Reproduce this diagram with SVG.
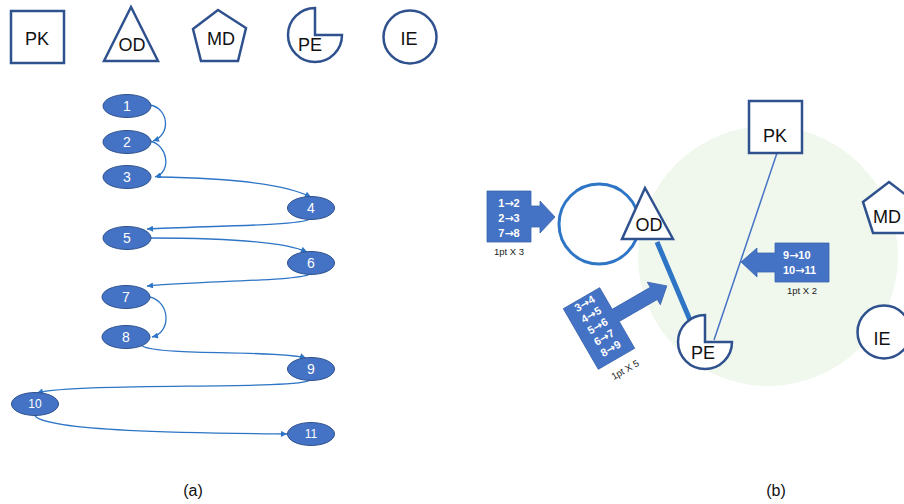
<svg xmlns="http://www.w3.org/2000/svg" width="904" height="504" viewBox="0 0 904 504">
<style>
.shape{fill:#fff;stroke:#2F528F;stroke-width:2.5}
.lbl{font-family:"Liberation Sans",Arial,sans-serif;font-size:18px;fill:#111;text-anchor:middle}
.ell{fill:#4472C4;stroke:#2F528F;stroke-width:1}
.num{font-family:"Liberation Sans",Arial,sans-serif;font-size:14px;fill:#fff;text-anchor:middle}
.num2{font-family:"Liberation Sans",Arial,sans-serif;font-size:12px;fill:#fff;text-anchor:middle}
.con{fill:none;stroke:#2E75C6;stroke-width:1.3;marker-end:url(#ah)}
.call{fill:#4472C4;stroke:#3A64AE;stroke-width:0.8}
.ct{font-family:"Liberation Sans",Arial,sans-serif;font-size:11px;fill:#fff;font-weight:bold}
.ar{font-family:"DejaVu Sans",sans-serif;font-weight:bold}
.small{font-family:"Liberation Sans",Arial,sans-serif;font-size:9.5px;fill:#222;text-anchor:middle}
.cap{font-family:"Liberation Sans",Arial,sans-serif;font-size:16px;fill:#111;text-anchor:middle}
</style>
<defs>
<marker id="ah" viewBox="0 0 10 10" refX="10" refY="5" markerWidth="7" markerHeight="6" markerUnits="userSpaceOnUse" orient="auto">
<path d="M0,0 L10,5 L0,10 Z" fill="#2E75C6"/>
</marker>
</defs>
<rect width="904" height="504" fill="#fff"/>

<!-- Legend -->
<g id="legend-PK"><rect class="shape" x="11" y="11" width="53" height="52"/><text class="lbl" x="37" y="45">PK</text></g>
<g id="legend-OD"><polygon class="shape" points="131,7 104,61 158,61"/><text class="lbl" x="132" y="51">OD</text></g>
<g id="legend-MD"><polygon class="shape" points="218,10 246,28 238,61 201,61 193,29"/><text class="lbl" x="221" y="45">MD</text></g>
<g id="legend-PE"><path class="shape" d="M315,35 L315,8 A27,27 0 1,0 342,35 Z"/><text class="lbl" x="310" y="51">PE</text></g>
<g id="legend-IE"><circle class="shape" cx="410" cy="37" r="26.5"/><text class="lbl" x="409" y="45">IE</text></g>

<!-- (a) connectors -->
<g id="connectors-a">
<path class="con" d="M150,105 C168,108 172,134 153,141"/>
<path class="con" d="M150,141 C168,145 172,172 155,177"/>
<path class="con" d="M157,177 C230,178 285,184 311,197"/>
<path class="con" d="M310,219 C300,226 200,226 147,229"/>
<path class="con" d="M151,238 C230,238 285,242 307,252"/>
<path class="con" d="M310,274 C300,281 200,281 147,286"/>
<path class="con" d="M150,297 C170,302 172,332 152,337"/>
<path class="con" d="M142,346 C160,356 280,350 306,358"/>
<path class="con" d="M310,380 C300,390 80,382 37,393"/>
<path class="con" d="M35,416 C50,432 200,433 287,434"/>
</g>

<!-- (a) nodes -->
<g id="n1"><ellipse class="ell" cx="127" cy="106" rx="24" ry="11.5"/><text class="num" x="127" y="111">1</text></g>
<g id="n2"><ellipse class="ell" cx="127" cy="142" rx="24" ry="11.5"/><text class="num" x="127" y="147">2</text></g>
<g id="n3"><ellipse class="ell" cx="127" cy="177" rx="24" ry="11.5"/><text class="num" x="127" y="182">3</text></g>
<g id="n4"><ellipse class="ell" cx="311" cy="208" rx="23.5" ry="11.5"/><text class="num" x="311" y="213">4</text></g>
<g id="n5"><ellipse class="ell" cx="127" cy="238" rx="24" ry="11.5"/><text class="num" x="127" y="243">5</text></g>
<g id="n6"><ellipse class="ell" cx="311" cy="263" rx="23.5" ry="11.5"/><text class="num" x="311" y="268">6</text></g>
<g id="n7"><ellipse class="ell" cx="126" cy="297" rx="24" ry="11.5"/><text class="num" x="126" y="302">7</text></g>
<g id="n8"><ellipse class="ell" cx="126" cy="337" rx="24" ry="11.5"/><text class="num" x="126" y="342">8</text></g>
<g id="n9"><ellipse class="ell" cx="311" cy="369" rx="23.5" ry="11.5"/><text class="num" x="311" y="374">9</text></g>
<g id="n10"><ellipse class="ell" cx="35" cy="404" rx="23.5" ry="11.5"/><text class="num2" x="35" y="408">10</text></g>
<g id="n11"><ellipse class="ell" cx="311" cy="434" rx="23.5" ry="11.5"/><text class="num2" x="311" y="438">11</text></g>

<text class="cap" x="193" y="496">(a)</text>
<text class="cap" x="776" y="496">(b)</text>

<!-- (b) -->
<circle cx="768" cy="256" r="130" fill="#F0F8EE"/>
<g id="connectors-b">
<circle cx="599" cy="224" r="40" fill="none" stroke="#2E75C6" stroke-width="3"/>
<line x1="657" y1="242" x2="690" y2="320" stroke="#2E75C6" stroke-width="5"/>
<line x1="777" y1="153" x2="714" y2="340" stroke="#4472C4" stroke-width="1.5"/>
</g>

<g id="PK"><rect class="shape" x="749" y="101" width="53" height="52"/><text class="lbl" x="775" y="142">PK</text></g>
<g id="OD"><polygon class="shape" points="645,188 622,239 673,239"/><text class="lbl" x="649" y="231">OD</text></g>
<g id="MD"><polygon class="shape" points="889,182 915,202 906,233 873,233 863,202"/><text class="lbl" x="873" y="223" style="text-anchor:start">MD</text></g>
<g id="PE"><path class="shape" d="M705,342 L705,315 A27,27 0 1,0 732,342 Z"/><text class="lbl" x="703" y="359">PE</text></g>
<g id="IE"><circle class="shape" cx="884" cy="332" r="26.5"/><text class="lbl" x="882" y="345">IE</text></g>

<g id="callout-1">
<path class="call" d="M487,191 H531 V206 H540 V201 L555,217 L540,233 V227 H531 V242 H487 Z"/>
<text class="ct" x="509" y="207" text-anchor="middle">1<tspan class="ar">→</tspan>2</text>
<text class="ct" x="509" y="222" text-anchor="middle">2<tspan class="ar">→</tspan>3</text>
<text class="ct" x="509" y="237" text-anchor="middle">7<tspan class="ar">→</tspan>8</text>
<text class="small" x="509" y="255">1pt X 3</text>
</g>

<g id="callout-2" transform="translate(599,328.5) rotate(-30)">
<path class="call" d="M-21,-35 H21 V-10 H65 V-16 L80,-3 L65,10 V4 H21 V35 H-21 Z"/>
<text class="ct" x="0" y="-25" text-anchor="middle" font-size="10.5">3<tspan class="ar">→</tspan>4</text>
<text class="ct" x="0" y="-12" text-anchor="middle" font-size="10.5">4<tspan class="ar">→</tspan>5</text>
<text class="ct" x="0" y="1" text-anchor="middle" font-size="10.5">5<tspan class="ar">→</tspan>6</text>
<text class="ct" x="0" y="14" text-anchor="middle" font-size="10.5">6<tspan class="ar">→</tspan>7</text>
<text class="ct" x="0" y="27" text-anchor="middle" font-size="10.5">8<tspan class="ar">→</tspan>9</text>
<text class="small" x="2" y="52">1pt X 5</text>
</g>

<g id="callout-3">
<path class="call" d="M829,243 V282 H775 V272 H757 V277 L741,262 L757,248 V253 H775 V243 Z"/>
<text class="ct" x="783" y="259">9<tspan class="ar">→</tspan>10</text>
<text class="ct" x="783" y="274">10<tspan class="ar">→</tspan>11</text>
<text class="small" x="802" y="294">1pt X 2</text>
</g>
</svg>
